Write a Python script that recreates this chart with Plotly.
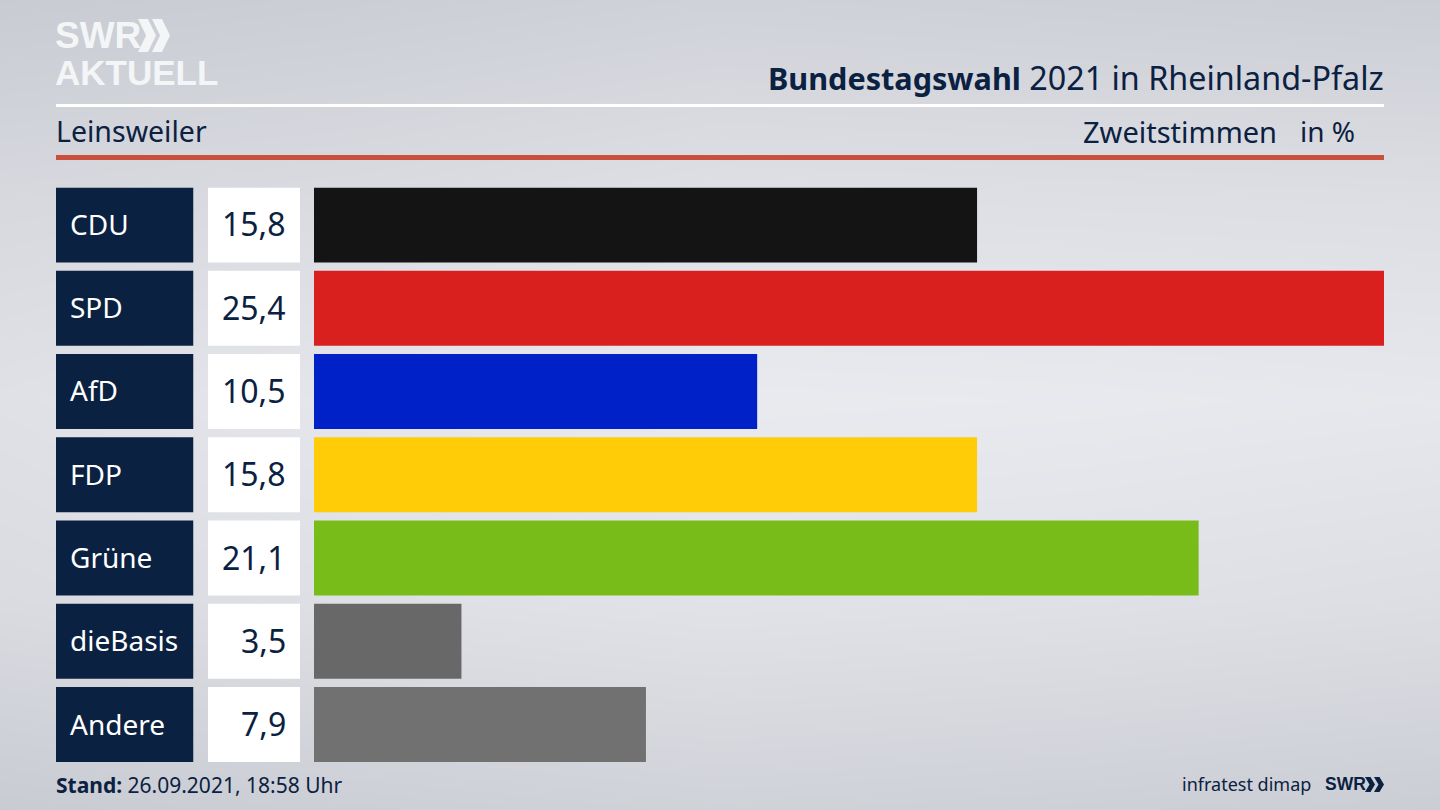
import plotly.graph_objects as go

W, H = 1440, 810

# ----------------------------
# Data
# ----------------------------
parties = ['CDU', 'SPD', 'AfD', 'FDP', 'Grüne', 'dieBasis', 'Andere']
value_labels = ['15,8', '25,4', '10,5', '15,8', '21,1', '3,5', '7,9']
# lengths (the printed labels are rounded)
bar_values = [15.74, 25.4, 10.52, 15.74, 21.0, 3.5, 7.88]
bar_colors = ['#141414', '#d9201f', '#0021c8', '#ffcc07', '#78bc1a', '#686868', '#717172']

# backdrop greys, top to bottom / left to right
bg_x = [0, 360, 720, 1080, 1440]
bg_y = [0, 200, 400, 600, 810]
bg_z = [
    [202, 205, 209, 207, 205],
    [216, 219, 224, 223, 222],
    [225, 231, 235, 234, 232],
    [219, 224, 227, 225, 222],
    [202, 206, 209, 207, 204],
]

NAVY = '#0b2141'
FONT = 'Noto Sans'
LOGO = '#f4f5f7'


def px(x):
    return x / W


def py(y):
    return 1 - y / H


fig = go.Figure()

# backdrop
fig.add_trace(go.Heatmap(
    x=bg_x, y=bg_y, z=bg_z, zsmooth='best', showscale=False, hoverinfo='skip',
    zmin=190, zmax=240,
    colorscale=[[0, '#bdc0c8'], [1, '#eeeff3']],
    xaxis='x', yaxis='y',
))

# name cells, value cells, result bars
fig.add_trace(go.Bar(x=[1] * len(parties), y=parties, orientation='h', marker_color=NAVY,
                     marker_line_width=0, xaxis='x2', yaxis='y2', hoverinfo='skip'))
fig.add_trace(go.Bar(x=[1] * len(parties), y=parties, orientation='h', marker_color='white',
                     marker_line_width=0, xaxis='x3', yaxis='y2', hoverinfo='skip'))
fig.add_trace(go.Bar(x=bar_values, y=parties, orientation='h', marker_color=bar_colors,
                     marker_line_width=0, xaxis='x4', yaxis='y2'))

annotations = []


def label(x, y, text, size, color=NAVY, anchor='left', family=FONT, yref='paper', yshift=0):
    annotations.append(dict(
        x=px(x), y=py(y) if yref == 'paper' else y, xref='paper', yref=yref,
        text=text, showarrow=False, xanchor=anchor, yanchor='middle', yshift=yshift,
        font=dict(family=family, size=size, color=color),
    ))


for party, val in zip(parties, value_labels):
    label(68, party, party, 28, color='white', yref='y2', yshift=1)
    label(288, party, val, 32, anchor='right', yref='y2', yshift=1)

label(1386, 77, '<b style="font-size:30.6px">Bundestagswahl</b> <span style="font-size:32.3px">2021 in Rheinland-Pfalz</span>',
      32, anchor='right')
label(54, 131, 'Leinsweiler', 28.5)
label(1279, 131, 'Zweitstimmen', 29, anchor='right')
label(1298, 131, 'in %', 28)
label(54, 785, '<b>Stand:</b> 26.09.2021, 18:58 Uhr', 21)
label(1313, 784, 'infratest dimap', 18, anchor='right')

# logos
label(53, 36, '<b>SWR</b>', 37, color=LOGO, family='Liberation Sans')
label(53, 72, '<b>AKTUELL</b>', 35, color=LOGO, family='Liberation Sans')
label(1323, 784, '<b>SWR</b>', 17.5, family='Liberation Sans')


def chevron(x, y, w, h, color):
    t = w * 0.55
    pts = [(x, y), (x + t, y), (x + w, y + h / 2), (x + t, y + h), (x, y + h), (x + w - t, y + h / 2)]
    path = 'M ' + ' L '.join(f'{px(a):.5f},{py(b):.5f}' for a, b in pts) + ' Z'
    return dict(type='path', xref='paper', yref='paper', path=path, fillcolor=color, line_width=0)


shapes = [
    dict(type='rect', xref='paper', yref='paper', x0=px(56), x1=px(1384), y0=py(107), y1=py(104),
         fillcolor='white', line_width=0),
    dict(type='rect', xref='paper', yref='paper', x0=px(56), x1=px(1384), y0=py(160), y1=py(155),
         fillcolor='#c8503c', line_width=0),
    chevron(138, 19, 18, 33, LOGO),
    chevron(152, 19, 18, 33, LOGO),
    chevron(1365, 777, 10, 15, NAVY),
    chevron(1374, 777, 10, 15, NAVY),
]

hidden = dict(visible=False, fixedrange=True)
fig.update_layout(
    width=W, height=H,
    margin=dict(l=0, r=0, t=0, b=0),
    paper_bgcolor='#dfe1e6',
    plot_bgcolor='rgba(0,0,0,0)',
    showlegend=False,
    barmode='overlay',
    bargap=0.1,
    annotations=annotations,
    shapes=shapes,
    xaxis=dict(domain=[0, 1], range=[0, 1440], **hidden),
    yaxis=dict(domain=[0, 1], range=[810, 0], **hidden),
    xaxis2=dict(domain=[px(56), px(193.5)], range=[0, 1], anchor='y2', **hidden),
    xaxis3=dict(domain=[px(208), px(300)], range=[0, 1], anchor='y2', **hidden),
    xaxis4=dict(domain=[px(314), px(1384)], range=[0, 25.4], anchor='y2', **hidden),
    yaxis2=dict(domain=[py(762), py(187.5)], range=[6.45, -0.45], type='category',
                categoryorder='array', categoryarray=parties, anchor='x2', **hidden),
)

fig.write_html("out.html", config={'displayModeBar': False},
               post_script="document.body.style.margin='0';document.body.style.overflow='hidden';")
